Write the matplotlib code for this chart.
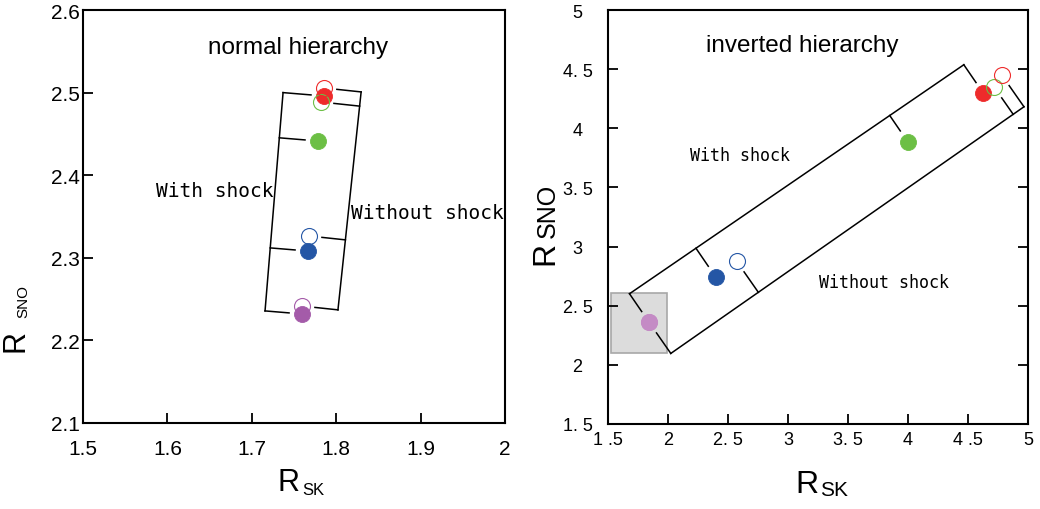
import numpy as np
import matplotlib.pyplot as plt
from matplotlib.patches import Rectangle

SANS = ["Liberation Sans", "DejaVu Sans"]
MONO = ["DejaVu Sans Mono"]

# point order: purple, blue, green, red
# normal hierarchy
nh_x_shock = [1.7595, 1.7666, 1.7784, 1.7855]
nh_y_shock = [2.2320, 2.3082, 2.4414, 2.4959]
nh_x_noshock = [1.7595, 1.7678, 1.7820, 1.7855]
nh_y_noshock = [2.2416, 2.3264, 2.4886, 2.5056]
nh_colors = ["#a45ba9", "#2456a5", "#6cbf45", "#ee2b2b"]

# inverted hierarchy
ih_x_shock = [1.842, 2.397, 3.997, 4.628]
ih_y_shock = [2.360, 2.743, 3.887, 4.296]
ih_x_noshock = [1.842, 2.572, 4.719, 4.781]
ih_y_noshock = [2.360, 2.876, 4.347, 4.451]
ih_colors = ["#c48bc5", "#2456a5", "#6cbf45", "#ee2b2b"]

# band edges (two points on each edge line)
nh_edge_shock = [(1.7370, 2.4995), (1.7156, 2.2347)]
nh_edge_noshock = [(1.8294, 2.4995), (1.8021, 2.2372)]
ih_edge_shock = [(1.689, 2.608), (4.475, 4.544)]
ih_edge_noshock = [(2.017, 2.092), (4.961, 4.178)]

# shaded region on the inverted plot
shade_x = (1.522, 1.989)
shade_y = (2.101, 2.608)

nh_xticks = [1.5, 1.6, 1.7, 1.8, 1.9, 2.0]
nh_xlabels = ["1.5", "1.6", "1.7", "1.8", "1.9", "2"]
nh_yticks = [2.1, 2.2, 2.3, 2.4, 2.5, 2.6]
nh_ylabels = ["2.1", "2.2", "2.3", "2.4", "2.5", "2.6"]
ih_xticks = [1.5, 2, 2.5, 3, 3.5, 4, 4.5, 5]
ih_xlabels = ["1 .5", "2", "2. 5", "3", "3. 5", "4", "4 .5", "5"]
ih_yticks = [1.5, 2, 2.5, 3, 3.5, 4, 4.5, 5]
ih_ylabels = ["1. 5", "2", "2. 5", "3", "3. 5", "4", "4. 5", "5"]


def band(ax, edge, xs, ys, gap=13):
    # edge line plus a perpendicular tick from it towards each point
    tr = ax.transData
    inv = tr.inverted()
    p0, p1 = tr.transform(np.array(edge))
    u = (p1 - p0) / np.hypot(*(p1 - p0))
    pts = tr.transform(np.column_stack([xs, ys]))
    t = (pts - p0) @ u
    feet = p0 + np.outer(t, u)
    ends = inv.transform(p0 + np.outer([t.min(), t.max()], u))
    ax.plot(ends[:, 0], ends[:, 1], color="k", lw=1.1, zorder=2)
    for f, p in zip(feet, pts):
        d = p - f
        L = np.hypot(*d)
        tip = f + d * (L - gap) / L
        seg = inv.transform(np.array([f, tip]))
        ax.plot(seg[:, 0], seg[:, 1], color="k", lw=1.1, zorder=2)


def points(ax, xs, ys, xo, yo, colors):
    for x, y, c in zip(xs, ys, colors):
        ax.plot(x, y, "o", ms=11.5, mfc=c, mec=c, mew=0.6, zorder=3)
    for x, y, c in zip(xo, yo, colors):
        ax.plot(x, y, "o", ms=11.5, mfc="none", mec=c, mew=0.8, zorder=4)


fig = plt.figure(figsize=(10.4, 5.1), dpi=100)

# ---- normal hierarchy ----
ax1 = fig.add_axes([83 / 1040, 86 / 510, 422 / 1040, 413 / 510])
ax1.set_xlim(1.5, 2.0)
ax1.set_ylim(2.1, 2.6)
ax1.set_xticks(nh_xticks, nh_xlabels, family=SANS, fontsize=15)
ax1.set_yticks(nh_yticks, nh_ylabels, family=SANS, fontsize=15)
ax1.tick_params(direction="in", length=7, width=1.3)
ax1.tick_params(axis="x", pad=11.5)
ax1.tick_params(axis="y", pad=2.5)
for s in ax1.spines.values():
    s.set_linewidth(1.5)

band(ax1, nh_edge_shock, nh_x_shock, nh_y_shock)
band(ax1, nh_edge_noshock, nh_x_noshock, nh_y_noshock)
points(ax1, nh_x_shock, nh_y_shock, nh_x_noshock, nh_y_noshock, nh_colors)

ax1.text(1.7553, 2.555, "normal hierarchy", ha="center", va="center",
         family=SANS, fontsize=17.5)
ax1.text(1.6564, 2.381, "With shock", ha="center", va="center",
         family=MONO, fontsize=14)
ax1.text(1.9076, 2.3554, "Without shock", ha="center", va="center",
         family=MONO, fontsize=14)

# ---- inverted hierarchy ----
ax2 = fig.add_axes([608 / 1040, 85 / 510, 420 / 1040, 414 / 510])
ax2.set_xlim(1.5, 5.0)
ax2.set_ylim(1.5, 5.0)
ax2.set_xticks(ih_xticks, ih_xlabels, family=SANS, fontsize=13)
ax2.set_yticks(ih_yticks, ih_ylabels, family=SANS, fontsize=13)
ax2.tick_params(direction="in", length=7, width=1.3, right=True)
ax2.tick_params(axis="x", pad=5)
ax2.tick_params(axis="y", pad=22)
for lab in ax2.get_yticklabels():
    lab.set_ha("center")
for s in ax2.spines.values():
    s.set_linewidth(1.5)

ax2.add_patch(Rectangle((shade_x[0], shade_y[0]), shade_x[1] - shade_x[0],
                        shade_y[1] - shade_y[0], facecolor="#dcdcdc",
                        edgecolor="#a8a8a8", lw=1.2, zorder=1))
band(ax2, ih_edge_shock, ih_x_shock, ih_y_shock)
band(ax2, ih_edge_noshock, ih_x_noshock, ih_y_noshock)
points(ax2, ih_x_shock, ih_y_shock, ih_x_noshock, ih_y_noshock, ih_colors)

ax2.text(3.117, 4.704, "inverted hierarchy", ha="center", va="center",
         family=SANS, fontsize=17.5)
ax2.text(2.6, 3.77, "With shock", ha="center", va="center",
         family=MONO, fontsize=12)
ax2.text(3.80, 2.70, "Without shock", ha="center", va="center",
         family=MONO, fontsize=12)

# axis labels: large R with smaller suffix on the same baseline
fig.text(30 / 1040, 1 - 352 / 510, "R", rotation=90, family=SANS,
         fontsize=22, ha="right", va="bottom")
fig.text(30 / 1040, 1 - 318 / 510, "SNO", rotation=90, family=SANS,
         fontsize=11, ha="right", va="bottom")
fig.text(278 / 1040, 1 - 498 / 510, "R", family=SANS, fontsize=22,
         ha="left", va="bottom")
fig.text(302 / 1040, 1 - 498 / 510, "SK", family=SANS, fontsize=12,
         ha="left", va="bottom")

fig.text(560 / 1040, 1 - 265 / 510, "R", rotation=90, family=SANS,
         fontsize=23, ha="right", va="bottom")
fig.text(560 / 1040, 1 - 238 / 510, "SNO", rotation=90, family=SANS,
         fontsize=18, ha="right", va="bottom")
fig.text(795 / 1040, 1 - 500 / 510, "R", family=SANS, fontsize=23,
         ha="left", va="bottom")
fig.text(820 / 1040, 1 - 500 / 510, "SK", family=SANS, fontsize=15,
         ha="left", va="bottom")

fig.savefig("out.png", dpi=100)
